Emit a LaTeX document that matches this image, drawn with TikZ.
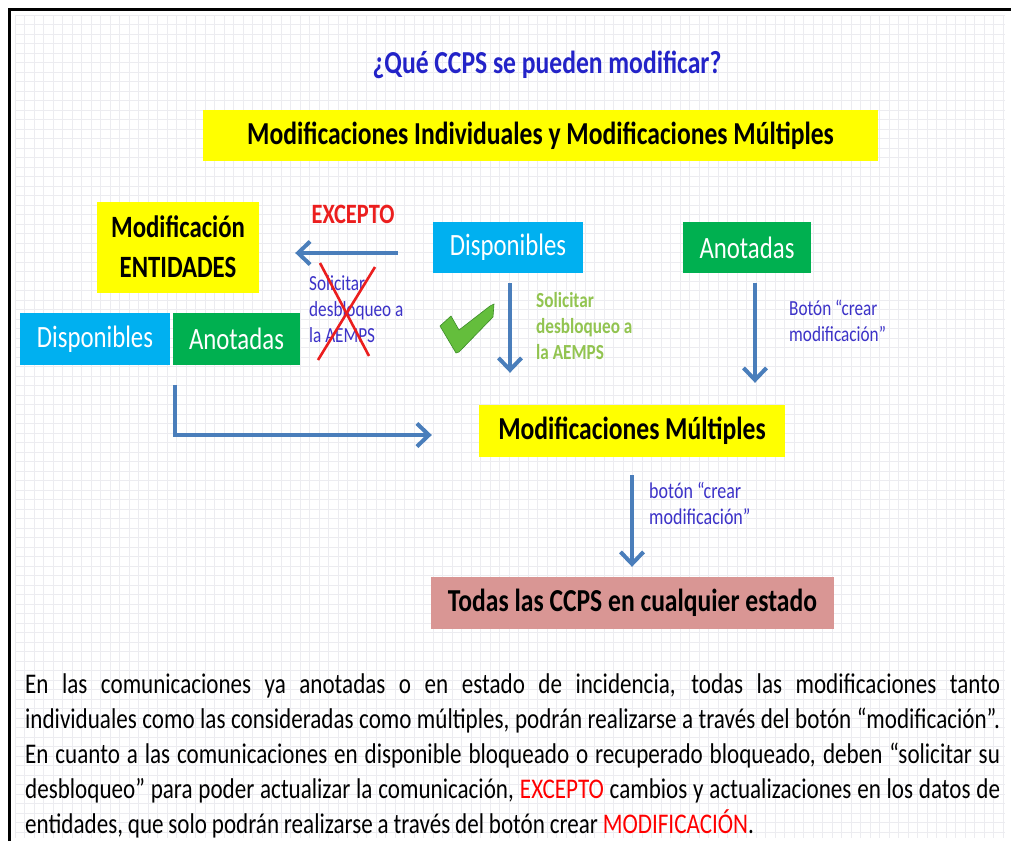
\documentclass[tikz,border=0pt]{standalone}
\usepackage{fontspec}
\setmainfont{Carlito}[FakeStretch=0.8]
\newfontfamily\parafont{Carlito}[FakeStretch=0.81]
\newcommand{\parastyle}{\parafont\fontsize{28.5}{35}\selectfont\spaceskip=0.17em plus 1em minus 0.03em\relax}
\usetikzlibrary{arrows.meta,calc}
\definecolor{ttlblue}{RGB}{35,35,200}
\definecolor{lblblue}{RGB}{60,50,200}
\definecolor{arrblue}{RGB}{74,126,187}
\definecolor{cyanbox}{RGB}{0,176,240}
\definecolor{greenbox}{RGB}{0,176,80}
\definecolor{yelbox}{RGB}{255,255,0}
\definecolor{pinkbox}{RGB}{217,150,148}
\definecolor{lgreen}{RGB}{146,196,80}
\definecolor{xred}{RGB}{235,30,30}
\definecolor{gridc}{RGB}{236,236,240}
\definecolor{chk}{RGB}{100,190,60}
\definecolor{chkdark}{RGB}{60,140,40}
\begin{document}
\begin{tikzpicture}[x=1pt,y=-1pt,
  box/.style={inner sep=0pt, align=center},
  ybx/.style={box, fill=yelbox, text=black, font=\fontsize{32}{36}\selectfont\bfseries},
  cbx/.style={box, fill=cyanbox, text=white, font=\fontsize{31}{34}\selectfont},
  gbx/.style={box, fill=greenbox, text=white, font=\fontsize{31}{34}\selectfont},
  lbl/.style={inner sep=0pt, align=left, font=\fontsize{21.5}{26}\selectfont},
  arr/.style={draw=arrblue, line width=4pt, -{Straight Barb[length=12pt,width=23pt]}},
]
\useasboundingbox (0,0) rectangle (1011,841);
\fill[white] (0,0) rectangle (1011,841);
% background grid
\foreach \gx in {15,24.5,...,1005} \draw[gridc, line width=0.5pt] (\gx,15) -- (\gx,838);
\foreach \gy in {15,24.5,...,838} \draw[gridc, line width=0.5pt] (15,\gy) -- (1005,\gy);
% frame
\draw[black, line width=3pt] (9,841) -- (9,9) -- (1011,9);

% title
\node[inner sep=0pt, text=ttlblue, font=\fontsize{32}{36}\selectfont\bfseries] (title) at (547,65) {¿Qué CCPS se pueden modificar?};

% boxes
\node[ybx, minimum width=675pt, minimum height=51pt] (mim) at (540.5,135.5) {Modificaciones Individuales y Modificaciones Múltiples};
\node[ybx, minimum width=162pt, minimum height=91pt, font=\fontsize{31}{40}\selectfont\bfseries] (ent) at (178,247) {Modificación\\ENTIDADES};
\node[cbx, minimum width=150pt, minimum height=52pt] (dispL) at (95,339) {Disponibles};
\node[gbx, minimum width=127pt, minimum height=52pt] (anoL) at (236.5,339) {Anotadas};
\node[cbx, minimum width=150pt, minimum height=51pt] (dispC) at (508,247.5) {Disponibles};
\node[gbx, minimum width=128pt, minimum height=51pt] (anoR) at (747,247.5) {Anotadas};
\node[ybx, minimum width=306pt, minimum height=52pt] (mm) at (632,431) {Modificaciones Múltiples};
\node[box, fill=pinkbox, text=black, font=\fontsize{32}{36}\selectfont\bfseries, minimum width=403pt, minimum height=52pt] (todas) at (632.5,603) {Todas las CCPS en cualquier estado};

% labels
\node[inner sep=0pt, text=xred, font=\fontsize{28}{32}\selectfont\bfseries] (excepto) at (353,214) {EXCEPTO};
\node[lbl, text=lblblue, anchor=west] (crossed) at (309,309) {Solicitar\\desbloqueo a\\la AEMPS};
\node[lbl, text=lgreen, anchor=west, font=\fontsize{21.5}{26}\selectfont\bfseries] (solic) at (536,326) {Solicitar\\desbloqueo a\\la AEMPS};
\node[lbl, text=lblblue, anchor=west] (boton1) at (789,321) {Botón “crear\\modificación”};
\node[lbl, text=lblblue, anchor=west, font=\fontsize{22.5}{26}\selectfont] (boton2) at (649,503) {botón “crear\\modificación”};

% red cross over the label
\draw[xred, line width=2.6pt] (320,263) -- (369,356);
\draw[xred, line width=2.6pt] (375,267) -- (318,360);

% check mark
\fill[chk, draw=chkdark, line width=0.6pt] (440,326) -- (451,316) -- (459,330) -- (490,306) -- (494,304) -- (493,317) -- (459,352) -- (456,353) -- cycle;

% connectors
\draw[arr] ($(dispC.west)+(-35,5.5)$) -- ($(ent.east)+(36,6)$);
\draw[arr] ($(dispC.south)+(2,10)$) -- ($(mm.north)+(-122,-32)$);
\draw[arr] ($(anoR.south)+(8,10)$) -- ($(mm.north)+(123,-22)$);
\draw[arr] ($(dispL.south east)+(5,20)$) |- ($(mm.west)+(-47,4)$);
\draw[arr] ($(mm.south)+(0,18)$) -- ($(todas.north)+(-0.5,-10)$);

% paragraph
\node[inner sep=0pt, anchor=north west, align=left, font=\parastyle] (para) at (25,673) {%
\makebox[975pt][s]{En las comunicaciones ya anotadas o en estado de incidencia, todas las modificaciones tanto}\\
\makebox[975pt][s]{individuales como las consideradas como múltiples, podrán realizarse a través del botón “modificación”.}\\
\makebox[975pt][s]{En cuanto a las comunicaciones en disponible bloqueado o recuperado bloqueado, deben “solicitar su}\\
\makebox[975pt][s]{desbloqueo” para poder actualizar la comunicación, \textcolor{red}{EXCEPTO} cambios y actualizaciones en los datos de}\\
entidades, que solo podrán realizarse a través del botón crear \textcolor{red}{MODIFICACIÓN}.};
\end{tikzpicture}
\end{document}
